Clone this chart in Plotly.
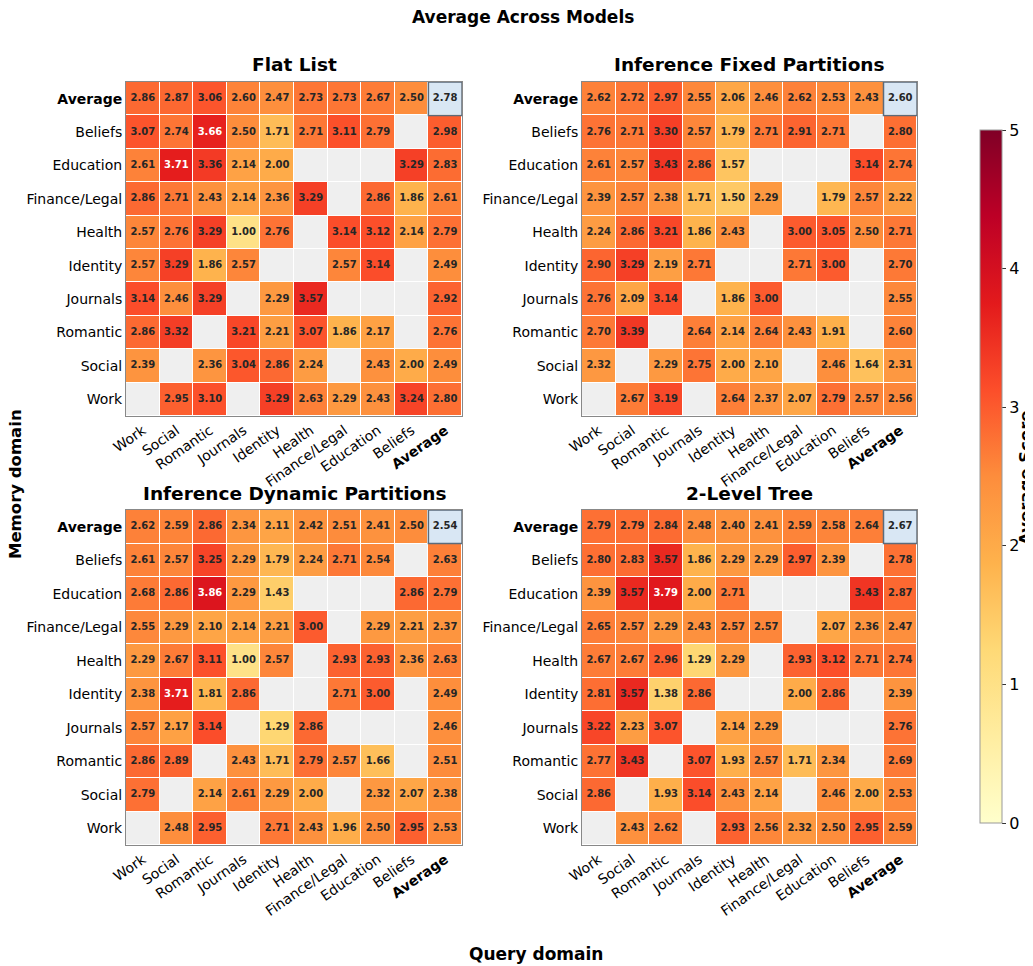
import plotly.graph_objects as go

rows = ["Average", "Beliefs", "Education", "Finance/Legal", "Health", "Identity",
        "Journals", "Romantic", "Social", "Work"]
cols = ["Work", "Social", "Romantic", "Journals", "Identity", "Health",
        "Finance/Legal", "Education", "Beliefs", "Average"]
N = None

flat_list = [
    [2.86, 2.87, 3.06, 2.60, 2.47, 2.73, 2.73, 2.67, 2.50, 2.78],
    [3.07, 2.74, 3.66, 2.50, 1.71, 2.71, 3.11, 2.79, N, 2.98],
    [2.61, 3.71, 3.36, 2.14, 2.00, N, N, N, 3.29, 2.83],
    [2.86, 2.71, 2.43, 2.14, 2.36, 3.29, N, 2.86, 1.86, 2.61],
    [2.57, 2.76, 3.29, 1.00, 2.76, N, 3.14, 3.12, 2.14, 2.79],
    [2.57, 3.29, 1.86, 2.57, N, N, 2.57, 3.14, N, 2.49],
    [3.14, 2.46, 3.29, N, 2.29, 3.57, N, N, N, 2.92],
    [2.86, 3.32, N, 3.21, 2.21, 3.07, 1.86, 2.17, N, 2.76],
    [2.39, N, 2.36, 3.04, 2.86, 2.24, N, 2.43, 2.00, 2.49],
    [N, 2.95, 3.10, N, 3.29, 2.63, 2.29, 2.43, 3.24, 2.80],
]
fixed_partitions = [
    [2.62, 2.72, 2.97, 2.55, 2.06, 2.46, 2.62, 2.53, 2.43, 2.60],
    [2.76, 2.71, 3.30, 2.57, 1.79, 2.71, 2.91, 2.71, N, 2.80],
    [2.61, 2.57, 3.43, 2.86, 1.57, N, N, N, 3.14, 2.74],
    [2.39, 2.57, 2.38, 1.71, 1.50, 2.29, N, 1.79, 2.57, 2.22],
    [2.24, 2.86, 3.21, 1.86, 2.43, N, 3.00, 3.05, 2.50, 2.71],
    [2.90, 3.29, 2.19, 2.71, N, N, 2.71, 3.00, N, 2.70],
    [2.76, 2.09, 3.14, N, 1.86, 3.00, N, N, N, 2.55],
    [2.70, 3.39, N, 2.64, 2.14, 2.64, 2.43, 1.91, N, 2.60],
    [2.32, N, 2.29, 2.75, 2.00, 2.10, N, 2.46, 1.64, 2.31],
    [N, 2.67, 3.19, N, 2.64, 2.37, 2.07, 2.79, 2.57, 2.56],
]
dynamic_partitions = [
    [2.62, 2.59, 2.86, 2.34, 2.11, 2.42, 2.51, 2.41, 2.50, 2.54],
    [2.61, 2.57, 3.25, 2.29, 1.79, 2.24, 2.71, 2.54, N, 2.63],
    [2.68, 2.86, 3.86, 2.29, 1.43, N, N, N, 2.86, 2.79],
    [2.55, 2.29, 2.10, 2.14, 2.21, 3.00, N, 2.29, 2.21, 2.37],
    [2.29, 2.67, 3.11, 1.00, 2.57, N, 2.93, 2.93, 2.36, 2.63],
    [2.38, 3.71, 1.81, 2.86, N, N, 2.71, 3.00, N, 2.49],
    [2.57, 2.17, 3.14, N, 1.29, 2.86, N, N, N, 2.46],
    [2.86, 2.89, N, 2.43, 1.71, 2.79, 2.57, 1.66, N, 2.51],
    [2.79, N, 2.14, 2.61, 2.29, 2.00, N, 2.32, 2.07, 2.38],
    [N, 2.48, 2.95, N, 2.71, 2.43, 1.96, 2.50, 2.95, 2.53],
]
two_level_tree = [
    [2.79, 2.79, 2.84, 2.48, 2.40, 2.41, 2.59, 2.58, 2.64, 2.67],
    [2.80, 2.83, 3.57, 1.86, 2.29, 2.29, 2.97, 2.39, N, 2.78],
    [2.39, 3.57, 3.79, 2.00, 2.71, N, N, N, 3.43, 2.87],
    [2.65, 2.57, 2.29, 2.43, 2.57, 2.57, N, 2.07, 2.36, 2.47],
    [2.67, 2.67, 2.96, 1.29, 2.29, N, 2.93, 3.12, 2.71, 2.74],
    [2.81, 3.57, 1.38, 2.86, N, N, 2.00, 2.86, N, 2.39],
    [3.22, 2.23, 3.07, N, 2.14, 2.29, N, N, N, 2.76],
    [2.77, 3.43, N, 3.07, 1.93, 2.57, 1.71, 2.34, N, 2.69],
    [2.86, N, 1.93, 3.14, 2.43, 2.14, N, 2.46, 2.00, 2.53],
    [N, 2.43, 2.62, N, 2.93, 2.56, 2.32, 2.50, 2.95, 2.59],
]

panels = [
    ("Flat List", flat_list),
    ("Inference Fixed Partitions", fixed_partitions),
    ("Inference Dynamic Partitions", dynamic_partitions),
    ("2-Level Tree", two_level_tree),
]

W, H = 1033, 966
OX, OY = 8, 8  # page body margin offset
FONT = "DejaVu Sans"
ylorrd = [[0.0, "#ffffcc"], [0.125, "#ffeda0"], [0.25, "#fed976"], [0.375, "#feb24c"],
          [0.5, "#fd8d3c"], [0.625, "#fc4e2a"], [0.75, "#e31a1c"], [0.875, "#bd0026"],
          [1.0, "#800026"]]


def px(x):
    return (x - OX) / W


def py(y):
    return 1 - (y - OY) / H


def bold(s):
    return "<b>" + s + "</b>" if s == "Average" else s


xcats = [bold(c) for c in cols]
ycats = [bold(r) for r in rows]

# pixel boxes (left, right, top, bottom)
boxes = [(126, 462, 82, 416), (582, 917, 82, 416),
         (126, 462, 510, 845), (582, 917, 510, 845)]

fig = go.Figure()
layout_axes = {}
annotations = []
shapes = []

for k, ((title, data), (l, r, t, b)) in enumerate(zip(panels, boxes)):
    sfx = "" if k == 0 else str(k + 1)
    xa, ya = "x" + sfx, "y" + sfx
    # gray background for missing cells
    fig.add_trace(go.Heatmap(
        x=xcats, y=ycats, z=[[1] * len(cols) for _ in rows],
        colorscale=[[0, "#efefef"], [1, "#efefef"]], showscale=False,
        xgap=1, ygap=1, xaxis=xa, yaxis=ya, hoverinfo="skip"))
    zmain = [[(None if (i == 0 and j == len(cols) - 1) else v) for j, v in enumerate(row)]
             for i, row in enumerate(data)]
    fig.add_trace(go.Heatmap(
        x=xcats, y=ycats, z=zmain, coloraxis="coloraxis",
        xgap=1, ygap=1, xaxis=xa, yaxis=ya))
    # corner overall-average cell
    zc = [[None] * len(cols) for _ in rows]
    zc[0][len(cols) - 1] = 1
    fig.add_trace(go.Heatmap(
        x=xcats, y=ycats, z=zc,
        colorscale=[[0, "#d9e7f4"], [1, "#d9e7f4"]], showscale=False,
        xgap=1, ygap=1, xaxis=xa, yaxis=ya, hoverinfo="skip"))
    # text labels
    tx, ty, tt, tc = [], [], [], []
    for i, row in enumerate(data):
        for j, v in enumerate(row):
            if v is None:
                continue
            tx.append(xcats[j]); ty.append(ycats[i])
            tt.append(f"{v:.2f}")
            tc.append("white" if v >= 3.6 else "#262626")
    fig.add_trace(go.Scatter(
        x=tx, y=ty, text=tt, mode="text", xaxis=xa, yaxis=ya,
        textfont=dict(family=FONT, size=10, color=tc, weight="bold"),
        showlegend=False, hoverinfo="skip"))
    shapes.append(dict(type="rect", xref=xa, yref=ya, x0=len(cols) - 1.5, x1=len(cols) - 0.5,
                       y0=-0.5, y1=0.5, line=dict(color="#5b6b7b", width=1.5)))
    layout_axes["xaxis" + sfx] = dict(
        domain=[px(l), px(r)], anchor=ya, type="category", automargin=False,
        categoryorder="array", categoryarray=xcats, tickangle=-35,
        tickfont=dict(family=FONT, size=14, color="black"),
        ticks="", showgrid=False, zeroline=False,
        showline=True, linecolor="#888", linewidth=1, mirror=True,
        range=[-0.5, len(cols) - 0.5])
    layout_axes["yaxis" + sfx] = dict(
        domain=[py(b), py(t)], anchor=xa, type="category", automargin=False,
        categoryorder="array", categoryarray=ycats,
        tickfont=dict(family=FONT, size=14, color="black"),
        ticks="", showgrid=False, zeroline=False,
        showline=True, linecolor="#888", linewidth=1, mirror=True,
        range=[len(rows) - 0.5, -0.5])
    annotations.append(dict(text="<b>" + title + "</b>", x=px((l + r) / 2), y=py(t - 17),
                            xref="paper", yref="paper", showarrow=False,
                            xanchor="center", yanchor="middle",
                            font=dict(family=FONT, size=18.5, color="black")))

annotations += [
    dict(text="<b>Average Across Models</b>", x=px(523), y=py(17), xref="paper", yref="paper",
         showarrow=False, xanchor="center", yanchor="middle",
         font=dict(family=FONT, size=17, color="black")),
    dict(text="<b>Memory domain</b>", x=px(16), y=py(484), xref="paper", yref="paper",
         showarrow=False, textangle=-90, xanchor="center", yanchor="middle",
         font=dict(family=FONT, size=16.5, color="black")),
    dict(text="<b>Query domain</b>", x=px(536), y=py(954), xref="paper", yref="paper",
         showarrow=False, xanchor="center", yanchor="middle",
         font=dict(family=FONT, size=17, color="black")),
    dict(text="<b>Average Score</b>", x=px(1025), y=py(478), xref="paper", yref="paper",
         showarrow=False, textangle=-90, xanchor="center", yanchor="middle",
         font=dict(family=FONT, size=16.5, color="black")),
]

fig.update_layout(
    width=W, height=H, margin=dict(l=0, r=0, t=0, b=0, autoexpand=False),
    paper_bgcolor="white", plot_bgcolor="white",
    font=dict(family=FONT, color="black"),
    showlegend=False,
    coloraxis=dict(
        cmin=0, cmax=5, colorscale=ylorrd,
        colorbar=dict(
            x=px(980), xanchor="left", xpad=0, y=py(476.5), yanchor="middle",
            len=693 / H, lenmode="fraction", thickness=22, ypad=0,
            outlinecolor="#999", outlinewidth=1,
            tickvals=[0, 1, 2, 3, 4, 5], ticks="outside", ticklen=4, tickcolor="#333",
            tickfont=dict(family=FONT, size=16, color="black"))),
    annotations=annotations, shapes=shapes,
    **layout_axes,
)

fig.write_html("out.html")
